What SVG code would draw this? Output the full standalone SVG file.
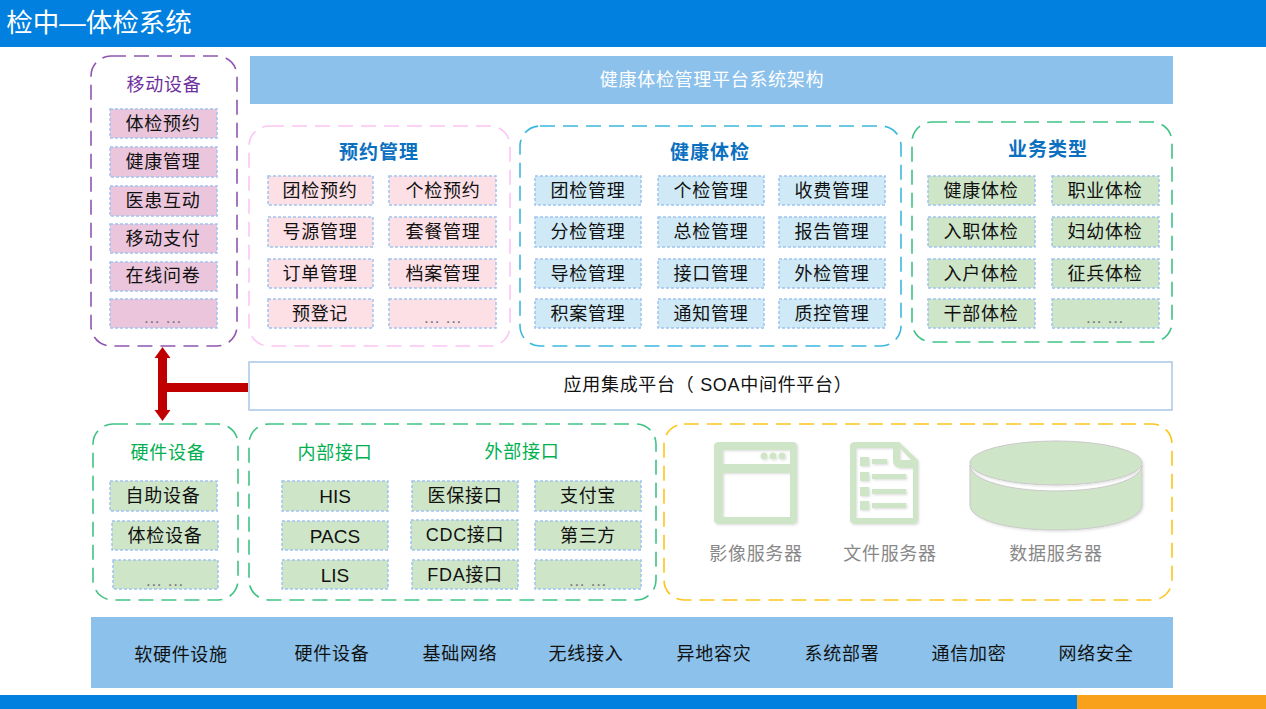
<svg xmlns="http://www.w3.org/2000/svg" width="1266" height="709" viewBox="0 0 1266 709">
<defs><filter id="sh" x="-5%" y="-5%" width="115%" height="115%"><feDropShadow dx="1.2" dy="1.2" stdDeviation="1" flood-color="#000" flood-opacity="0.13"/></filter></defs>
<style>
text{font-family:"Liberation Sans","Noto Sans CJK SC",sans-serif;text-anchor:middle;letter-spacing:.7px;font-size:18px}
.i{fill:#111}
.b{stroke:#a0c4f0;stroke-width:1.5;stroke-dasharray:3 2}
.pu{fill:#ebc5dc}.pk{fill:#fde0e6}.bl{fill:#cfe9f6}.gr{fill:#cfe5c8}
.c{fill:#fff;stroke-width:1.6;stroke-dasharray:15 8}
.h{font-weight:700;font-size:19px;letter-spacing:1px}
.s{fill:#888}
.ic{fill:#cfe5c8}
.d{fill:#777;font-size:17px}
</style>
<rect width="1266" height="709" fill="#fff"/>
<rect width="1266" height="47" fill="#0180e0"/>
<text x="99" y="32" fill="#fff" style="letter-spacing:0;font-size:26.5px">检中—体检系统</text>
<rect y="695" width="1266" height="14" fill="#0180e0"/>
<rect x="1077" y="695" width="189" height="14" fill="#f9a11b"/>

<g id="title"><rect x="250" y="56" width="923" height="48" fill="#8bc1eb"/><text x="712" y="86" fill="#fff">健康体检管理平台系统架构</text></g>

<g id="mobile">
<rect class="c" x="91" y="56" width="146" height="290" rx="20" stroke="#8e55b0"/>
<text x="164" y="91" fill="#7030a0">移动设备</text>
<g class="pu b">
<rect x="110" y="109" width="107" height="29"/><rect x="110" y="147" width="107" height="30"/><rect x="110" y="186" width="107" height="30"/><rect x="110" y="224" width="107" height="29"/><rect x="110" y="262" width="107" height="29"/><rect x="110" y="299" width="107" height="29"/>
</g>
<g class="i"><text x="163" y="130">体检预约</text><text x="163" y="168">健康管理</text><text x="163" y="207">医患互动</text><text x="163" y="245">移动支付</text><text x="163" y="282">在线问卷</text><text class="d" x="163" y="323">... ...</text></g>
</g>

<g id="reservation">
<rect class="c" x="249" y="126" width="261" height="220" rx="20" stroke="#fcc5f5"/>
<text class="h" x="379" y="159" fill="#0b70c0">预约管理</text>
<g class="pk b">
<rect x="268" y="176" width="105" height="29"/><rect x="389" y="176" width="107" height="29"/><rect x="268" y="217" width="105" height="30"/><rect x="389" y="217" width="107" height="30"/><rect x="268" y="259" width="105" height="29"/><rect x="389" y="259" width="107" height="29"/><rect x="268" y="299" width="105" height="29"/><rect x="389" y="299" width="107" height="29"/>
</g>
<g class="i"><text x="320" y="197">团检预约</text><text x="443" y="197">个检预约</text><text x="320" y="238">号源管理</text><text x="443" y="238">套餐管理</text><text x="320" y="280">订单管理</text><text x="443" y="280">档案管理</text><text x="320" y="320">预登记</text><text class="d" x="443" y="323">... ...</text></g>
</g>

<g id="health">
<rect class="c" x="520" y="126" width="381" height="220" rx="20" stroke="#3cb8de"/>
<text class="h" x="710" y="159" fill="#0b70c0">健康体检</text>
<g class="bl b">
<rect x="535" y="176" width="106" height="29"/><rect x="658" y="176" width="106" height="29"/><rect x="779" y="176" width="106" height="29"/>
<rect x="535" y="217" width="106" height="30"/><rect x="658" y="217" width="106" height="30"/><rect x="779" y="217" width="106" height="30"/>
<rect x="535" y="259" width="106" height="29"/><rect x="658" y="259" width="106" height="29"/><rect x="779" y="259" width="106" height="29"/>
<rect x="535" y="299" width="106" height="29"/><rect x="658" y="299" width="106" height="29"/><rect x="779" y="299" width="106" height="29"/>
</g>
<g class="i"><text x="588" y="197">团检管理</text><text x="711" y="197">个检管理</text><text x="832" y="197">收费管理</text><text x="588" y="238">分检管理</text><text x="711" y="238">总检管理</text><text x="832" y="238">报告管理</text><text x="588" y="280">导检管理</text><text x="711" y="280">接口管理</text><text x="832" y="280">外检管理</text><text x="588" y="320">积案管理</text><text x="711" y="320">通知管理</text><text x="832" y="320">质控管理</text></g>
</g>

<g id="business">
<rect class="c" x="912" y="122" width="260" height="220" rx="20" stroke="#3fc384"/>
<text class="h" x="1048" y="156" fill="#0b70c0">业务类型</text>
<g class="gr b">
<rect x="928" y="176" width="107" height="29"/><rect x="1052" y="176" width="107" height="29"/><rect x="928" y="217" width="107" height="30"/><rect x="1052" y="217" width="107" height="30"/><rect x="928" y="259" width="107" height="29"/><rect x="1052" y="259" width="107" height="29"/><rect x="928" y="299" width="107" height="29"/><rect x="1052" y="299" width="107" height="29"/>
</g>
<g class="i"><text x="981" y="197">健康体检</text><text x="1105" y="197">职业体检</text><text x="981" y="238">入职体检</text><text x="1105" y="238">妇幼体检</text><text x="981" y="280">入户体检</text><text x="1105" y="280">征兵体检</text><text x="981" y="320">干部体检</text><text class="d" x="1105" y="323">... ...</text></g>
</g>

<g id="platform"><rect x="249" y="362" width="923" height="48" fill="#fff" stroke="#a9c6ea" stroke-width="1.5"/><text class="i" x="708" y="391">应用集成平台（ SOA中间件平台）</text></g>

<g id="connectors" fill="#c00000">
<polygon points="162.5,347 170.5,358 167,358 167,410 170.5,410 162.5,421 154.5,410 158,410 158,358 154.5,358"/>
<rect x="163" y="383" width="85" height="9"/>
</g>

<g id="hardware">
<rect class="c" x="93" y="424" width="145" height="176" rx="20" stroke="#3fc384"/>
<text x="168" y="459" fill="#00b050">硬件设备</text>
<g class="gr b"><rect x="110" y="481" width="107" height="30"/><rect x="112" y="521" width="106" height="29"/><rect x="113" y="560" width="105" height="29"/></g>
<g class="i"><text x="163" y="502">自助设备</text><text x="165" y="542">体检设备</text><text class="d" x="165" y="586">... ...</text></g>
</g>

<g id="interfaces">
<rect class="c" x="249" y="424" width="407" height="176" rx="20" stroke="#3fc384"/>
<text x="335" y="459" fill="#00b050">内部接口</text>
<text x="522" y="458" fill="#00b050">外部接口</text>
<g class="gr b">
<rect x="282" y="481" width="106" height="30"/><rect x="282" y="521" width="106" height="29"/><rect x="282" y="560" width="106" height="29"/>
<rect x="412" y="481" width="106" height="30"/><rect x="411" y="520" width="107" height="30"/><rect x="412" y="560" width="106" height="29"/>
<rect x="535" y="481" width="106" height="30"/><rect x="535" y="521" width="106" height="29"/><rect x="535" y="560" width="106" height="29"/>
</g>
<g class="i"><text x="335" y="503" style="letter-spacing:0;font-size:19px">HIS</text><text x="335" y="543" style="letter-spacing:0;font-size:19px">PACS</text><text x="335" y="582" style="letter-spacing:0;font-size:19px">LIS</text></g>
<g class="i"><text x="465" y="502">医保接口</text><text x="465" y="541">CDC接口</text><text x="465" y="581">FDA接口</text><text x="588" y="502">支付宝</text><text x="588" y="542">第三方</text><text class="d" x="588" y="586">... ...</text></g>
</g>

<g id="servers">
<rect class="c" x="664" y="424" width="508" height="176" rx="20" stroke="#fdc51c"/>
<g id="image-server">
<g filter="url(#sh)">
<path class="ic" fill-rule="evenodd" d="M719,442H792Q797,442 797,446V520Q797,524 792,524H719Q714,524 714,520V446Q714,442 719,442ZM723,450V464H790V450ZM723,473V517H790V473Z"/>
<circle class="ic" cx="764" cy="456" r="3.5"/><circle class="ic" cx="773" cy="456" r="3.5"/><circle class="ic" cx="782" cy="456" r="3.5"/>
</g>
<text class="s" x="756" y="560">影像服务器</text>
</g>
<g id="file-server">
<g filter="url(#sh)">
<path class="ic" fill-rule="evenodd" d="M855,442H899L918,460V520Q918,524 914,524H855Q850,524 850,520V446Q850,442 855,442ZM856,448V518H913V468H901Q893,468 893,460V448ZM900,448V460H911Z"/>
<g class="ic"><rect x="860" y="457" width="9" height="9"/><rect x="872" y="459" width="15" height="5"/><rect x="860" y="472" width="9" height="9"/><rect x="872" y="474" width="34" height="5"/><rect x="860" y="487" width="9" height="9"/><rect x="872" y="489" width="34" height="5"/><rect x="860" y="501" width="9" height="9"/><rect x="872" y="503" width="34" height="5"/></g>
</g>
<text class="s" x="890" y="560">文件服务器</text>
</g>
<g id="data-server">
<g filter="url(#sh)">
<path d="M970,465V505C970,520 1008,530 1056,530S1142,520 1142,505V465C1142,480 1104,491 1056,491S970,480 970,465Z" fill="#cfe5c8" stroke="#c9c9c9" stroke-width="1"/>
<ellipse cx="1056" cy="463" rx="86" ry="22" fill="#cfe5c8" stroke="#c9c9c9" stroke-width="1"/>
</g>
<text class="s" x="1056" y="560">数据服务器</text>
</g>
</g>

<g id="infrastructure">
<rect x="91" y="617" width="1082" height="71" fill="#8bc1eb"/>
<g class="i"><text x="181" y="661">软硬件设施</text><text x="332" y="660">硬件设备</text><text x="460" y="660">基础网络</text><text x="586" y="660">无线接入</text><text x="714" y="660">异地容灾</text><text x="842" y="660">系统部署</text><text x="969" y="660">通信加密</text><text x="1096" y="660">网络安全</text></g>
</g>
</svg>
